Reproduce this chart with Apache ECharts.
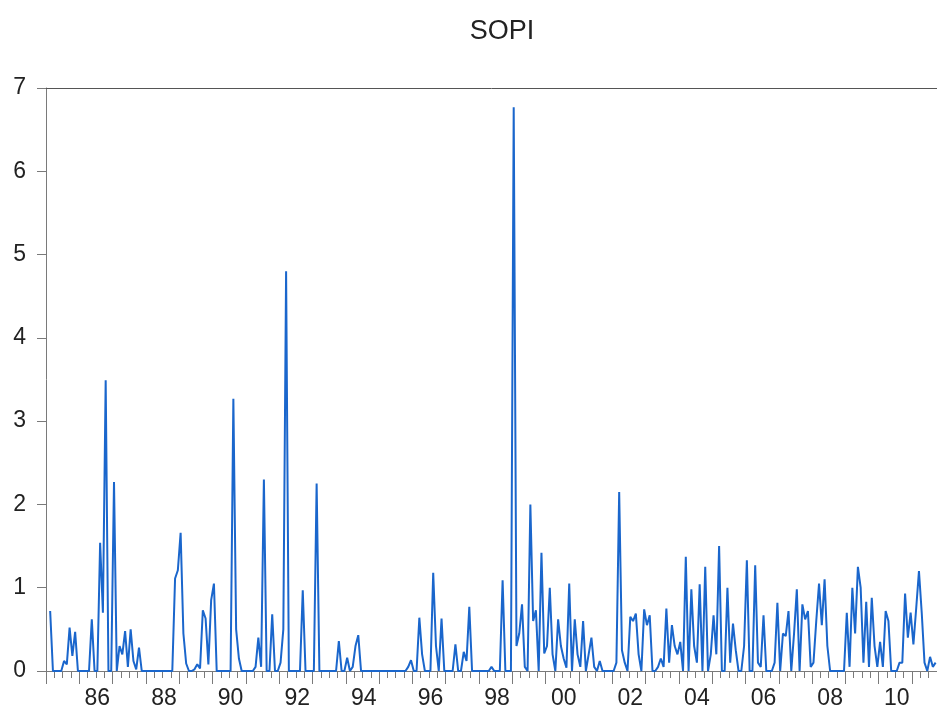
<!DOCTYPE html>
<html>
<head>
<meta charset="utf-8">
<script src="https://cdn.jsdelivr.net/npm/echarts@6/dist/echarts.min.js"></script>
<style>html,body{margin:0;padding:0;background:#fff}#c{width:937px;height:714px}</style>
</head>
<body>
<div id="c"></div>
<script>
// SOPI monthly, sample starts 1985-02 (1985-01 has no observation)
const sopi1985 = [0.72,0,0,0,0,0.12,0.08,0.52,0.18,0.47,0];           // Feb-Dec
const sopi1986 = [0,0,0,0,0.62,0,0,1.54,0.7,3.49,0,0];
const sopi1987 = [2.27,0,0.3,0.2,0.48,0.05,0.5,0.12,0.02,0.28,0,0];
const sopi1988 = [0,0,0,0,0,0,0,0,0,0,1.11,1.21];
const sopi1989 = [1.66,0.45,0.09,0,0,0.02,0.08,0.03,0.73,0.63,0.08,0.85];
const sopi1990 = [1.05,0,0,0,0,0,0,3.27,0.5,0.15,0,0];
const sopi1991 = [0,0,0,0.05,0.4,0.05,2.3,0,0,0.68,0,0];
const sopi1992 = [0.1,0.5,4.8,0,0,0,0,0,0.97,0,0,0];
const sopi1993 = [0,2.25,0,0,0,0,0,0,0,0.36,0,0];
const sopi1994 = [0.16,0,0.05,0.3,0.43,0,0,0,0,0,0,0];
const sopi1995 = [0,0,0,0,0,0,0,0,0,0,0.05,0.13];
const sopi1996 = [0,0,0.64,0.2,0,0,0,1.18,0.3,0,0.63,0];
const sopi1997 = [0,0,0,0.32,0,0,0.23,0.12,0.77,0,0,0];
const sopi1998 = [0,0,0,0,0.05,0,0,0,1.09,0,0,0];
const sopi1999 = [6.77,0.3,0.45,0.8,0.05,0,2.0,0.6,0.73,0,1.42,0.21];
const sopi2000 = [0.3,1.0,0.2,0,0.62,0.3,0.15,0.04,1.05,0,0.62,0.2];
const sopi2001 = [0.05,0.6,0,0.2,0.4,0.05,0,0.12,0,0,0,0];
const sopi2002 = [0,0.1,2.15,0.25,0.1,0,0.65,0.6,0.69,0.2,0,0.74];
const sopi2003 = [0.55,0.67,0,0,0.05,0.15,0.05,0.75,0.1,0.55,0.3,0.2];
const sopi2004 = [0.35,0,1.37,0,0.98,0.3,0.1,1.04,0,1.25,0,0.2];
const sopi2005 = [0.67,0.2,1.5,0,0,1.0,0.1,0.57,0.25,0,0,0.3];
const sopi2006 = [1.33,0,0,1.27,0.1,0.05,0.67,0,0,0,0.1,0.82];
const sopi2007 = [0,0.45,0.42,0.72,0,0.45,0.98,0,0.8,0.62,0.72,0.05];
const sopi2008 = [0.1,0.6,1.05,0.55,1.1,0.3,0,0,0,0,0,0];
const sopi2009 = [0.7,0.05,1.0,0.45,1.25,1.0,0.1,0.83,0.05,0.88,0.3,0.05];
const sopi2010 = [0.35,0.05,0.72,0.6,0,0,0,0.1,0.1,0.93,0.4,0.7];
const sopi2011 = [0.32,0.75,1.2,0.7,0.1,0,0.17,0.05,0.1];               // Jan-Sep

const yearTickLabels = ['86','88','90','92','94','96','98','00','02','04','06','08','10'];
const yTicks = [0,1,2,3,4,5,6,7];

const values = [null].concat(
  sopi1985, sopi1986, sopi1987, sopi1988, sopi1989, sopi1990, sopi1991,
  sopi1992, sopi1993, sopi1994, sopi1995, sopi1996, sopi1997, sopi1998,
  sopi1999, sopi2000, sopi2001, sopi2002, sopi2003, sopi2004, sopi2005,
  sopi2006, sopi2007, sopi2008, sopi2009, sopi2010, sopi2011);

const months = [];
for (let y = 1985; months.length < values.length; y++) {
  for (let m = 1; m <= 12 && months.length < values.length; m++) {
    months.push(y + '-' + (m < 10 ? '0' + m : '' + m));
  }
}

const FONT = "'Liberation Sans', Arial, sans-serif";
const axisGray = '#7a7a7a';

const chart = echarts.init(document.getElementById('c'), null, {renderer: 'canvas'});
chart.setOption({
  animation: false,
  backgroundColor: '#ffffff',
  title: {
    text: 'SOPI',
    left: 497, top: 13, textAlign: 'center',
    textStyle: {fontFamily: FONT, fontSize: 27, fontWeight: 'normal', color: '#222'}
  },
  grid: {left: 46, right: 0, top: 88, bottom: 43},
  xAxis: [
    {
      type: 'category', data: months, boundaryGap: true, position: 'bottom',
      axisLine: {show: true, lineStyle: {color: axisGray, width: 1}},
      axisTick: {
        show: true, length: 7, lineStyle: {color: axisGray},
        interval: (i, v) => ['01','04','07','10'].indexOf(v.slice(5)) >= 0
      },
      axisLabel: {
        interval: (i, v) => v.slice(5) === '07' && yearTickLabels.indexOf(v.slice(2,4)) >= 0,
        formatter: v => v.slice(2,4),
        margin: 16, fontFamily: FONT, fontSize: 23, color: '#222'
      },
      splitLine: {show: false}
    },
    {
      type: 'category', data: months, boundaryGap: true, position: 'bottom',
      axisLine: {show: false},
      axisTick: {
        show: true, length: 13, lineStyle: {color: axisGray},
        interval: (i, v) => v.slice(5) === '01'
      },
      axisLabel: {show: false},
      splitLine: {show: false}
    },
    {
      type: 'category', data: months, boundaryGap: true, position: 'top',
      axisLine: {show: true, lineStyle: {color: '#555', width: 1}},
      axisTick: {show: false}, axisLabel: {show: false}, splitLine: {show: false}
    }
  ],
  yAxis: {
    type: 'value', min: yTicks[0], max: yTicks[yTicks.length - 1], interval: 1,
    axisLine: {show: true, lineStyle: {color: axisGray, width: 1}},
    axisTick: {show: true, length: 9, lineStyle: {color: axisGray}},
    axisLabel: {margin: 20, fontFamily: FONT, fontSize: 23, color: '#222'},
    splitLine: {show: false}
  },
  series: [{
    name: 'SOPI', type: 'line', xAxisIndex: 0, data: values,
    symbol: 'none', connectNulls: false,
    lineStyle: {color: '#1a66cc', width: 2}
  }]
});
</script>
</body>
</html>
